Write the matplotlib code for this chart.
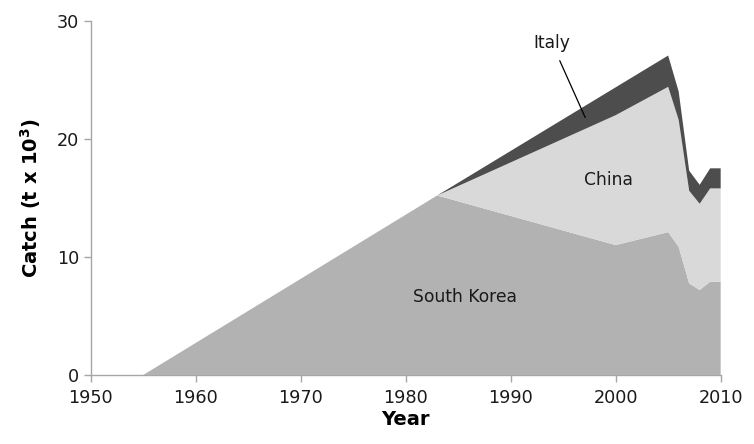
import matplotlib
matplotlib.use("Agg")
import matplotlib.pyplot as plt
import numpy as np

years = [1950, 1955, 1983, 2000, 2005, 2006, 2007, 2008, 2009, 2010]
south_korea = [0, 0, 15.2, 11.0, 12.1, 10.85, 7.75, 7.2, 7.9, 7.9]
china = [0, 0, 0, 11.0, 12.3, 10.75, 7.85, 7.3, 7.9, 7.9]
italy = [0, 0, 0, 2.36, 2.65, 2.4, 1.7, 1.6, 1.7, 1.7]

x_ticks = [1950, 1960, 1970, 1980, 1990, 2000, 2010]
y_ticks = [0, 10, 20, 30]

plt.rcParams['font.family'] = ['DejaVu Sans']

fig = plt.figure(figsize=(7.54, 4.44), dpi=100)
ax = fig.add_axes([0.1203, 0.1554, 0.8355, 0.798])

ax.stackplot(years, south_korea, china, italy,
             colors=['#b2b2b2', '#d9d9d9', '#4d4d4d'], linewidth=0)

ax.set_xlim(1950, 2010)
ax.set_ylim(0, 30)
ax.set_xticks(x_ticks)
ax.set_yticks(y_ticks)

for s in ['top', 'right']:
    ax.spines[s].set_visible(False)
for s in ['left', 'bottom']:
    ax.spines[s].set_color('#a6a6a6')
    ax.spines[s].set_linewidth(1.0)
    ax.spines[s].set_zorder(0)

ax.tick_params(axis='both', colors='#a6a6a6', length=5, width=1,
               labelsize=12.7, labelcolor='#1a1a1a', direction='out')
ax.tick_params(axis='x', pad=5)

ax.set_xlabel('Year', fontsize=14, fontweight='bold', labelpad=2)
ax.set_ylabel('Catch (t x 10$^{\\mathbf{3}}$)', fontsize=14, fontweight='bold', labelpad=10)

ax.text(1985.6, 6.6, 'South Korea', fontsize=12.3, ha='center', va='center', color='#1a1a1a')
ax.text(1999.3, 16.5, 'China', fontsize=12.3, ha='center', va='center', color='#1a1a1a')
ax.annotate('Italy', xy=(1997.1, 21.8), xytext=(1993.9, 28.15),
            fontsize=12.3, ha='center', va='center', color='#1a1a1a',
            arrowprops=dict(arrowstyle='-', color='black', lw=0.9, shrinkA=5, shrinkB=0))

fig.savefig('out.png', dpi=100)
